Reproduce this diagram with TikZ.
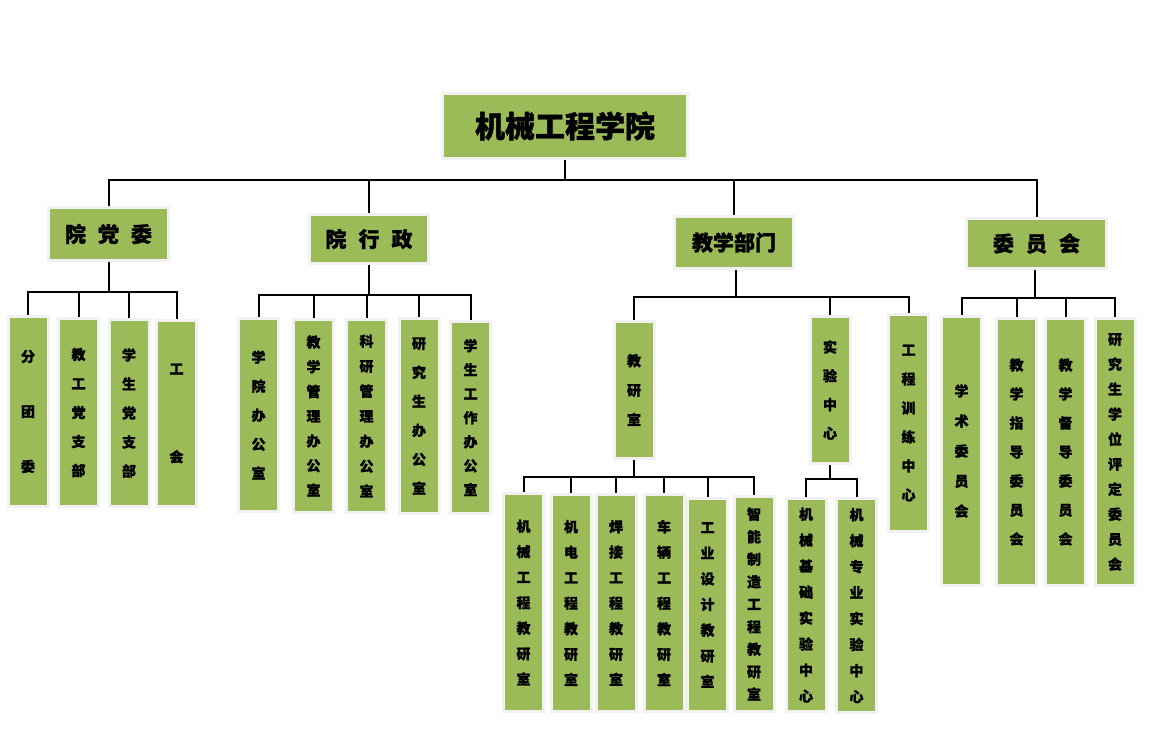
\documentclass[tikz,border=0pt]{standalone}
\usepackage{fontspec}
\newfontfamily\cjk{Noto Sans CJK SC}[BoldFeatures={FakeBold=1.2}]
\usetikzlibrary{shadows}
\definecolor{boxgreen}{HTML}{9BBB59}
\definecolor{boxframe}{HTML}{F1F1F1}
\newcommand\colfont[1]{\cjk\bfseries\fontsize{14pt}{#1pt}\selectfont}
\tikzset{
  unit/.style={fill=boxgreen, draw=boxframe, line width=3pt, inner sep=0pt,
    drop shadow={shadow xshift=1pt, shadow yshift=-1.5pt, fill=black!30}},
  headbox/.style={unit, font=\cjk\bfseries\fontsize{21pt}{24pt}\selectfont},
  colbox/.style={unit, minimum width=40pt, align=center, font=\colfont{#1}},
  link/.style={line width=2pt}
}
\begin{document}
\begin{tikzpicture}[x=1pt, y=-1pt]
\useasboundingbox (0,0) rectangle (1169,745);
% top
\node[unit, minimum width=245pt, minimum height=65pt, font=\cjk\bfseries\fontsize{30pt}{34pt}\selectfont] (top) at (565,126) {机械工程学院};
% second level
\node[headbox, minimum width=120pt, minimum height=53pt] (dang) at (108.5,234) {院\hspace{12pt}党\hspace{12pt}委};
\node[headbox, minimum width=119pt, minimum height=49pt] (xz) at (369,239) {院\hspace{12pt}行\hspace{12pt}政};
\node[headbox, minimum width=119pt, minimum height=52pt] (jx) at (734,242.5) {教学部门};
\node[headbox, minimum width=140pt, minimum height=50pt] (wy) at (1036.5,243.5) {委\hspace{12pt}员\hspace{12pt}会};
% third level
\node[colbox=55, minimum height=190pt] (d1) at (28,411.5) {分\\团\\委};
\node[colbox=29, minimum height=188pt] (d2) at (78.5,412.5) {教\\工\\党\\支\\部};
\node[colbox=29, minimum height=187pt] (d3) at (129,413) {学\\生\\党\\支\\部};
\node[colbox=88, minimum height=186pt] (d4) at (176.5,413.5) {工\\会};
\node[colbox=29, minimum height=193pt] (x1) at (258.5,415) {学\\院\\办\\公\\室};
\node[colbox=24.7, minimum height=193pt] (x2) at (313.5,416) {教\\学\\管\\理\\办\\公\\室};
\node[colbox=25, minimum height=193pt] (x3) at (366.5,416) {科\\研\\管\\理\\办\\公\\室};
\node[colbox=29, minimum height=195pt] (x4) at (419,416) {研\\究\\生\\办\\公\\室};
\node[colbox=24, minimum height=192pt] (x5) at (470.5,417.5) {学\\生\\工\\作\\办\\公\\室};
\node[colbox=29.5, minimum height=137pt] (jys) at (634,390) {教\\研\\室};
\node[colbox=28.7, minimum height=147pt] (syzx) at (830,390) {实\\验\\中\\心};
\node[colbox=29, minimum height=217pt] (gcxl) at (908.5,423) {工\\程\\训\\练\\中\\心};
\node[colbox=30, minimum height=269pt] (w1) at (961.5,451) {学\\术\\委\\员\\会};
\node[colbox=29, minimum height=267pt] (w2) at (1016.5,452) {教\\学\\指\\导\\委\\员\\会};
\node[colbox=29, minimum height=267pt] (w3) at (1065.5,452) {教\\学\\督\\导\\委\\员\\会};
\node[colbox=25, minimum height=267pt] (w4) at (1115,452) {研\\究\\生\\学\\位\\评\\定\\委\\员\\会};
% fourth level
\node[colbox=25.5, minimum height=218pt] (r1) at (523.5,602.5) {机\\械\\工\\程\\教\\研\\室};
\node[colbox=25.5, minimum height=217pt] (r2) at (571,603) {机\\电\\工\\程\\教\\研\\室};
\node[colbox=25.5, minimum height=217pt] (r3) at (616,603) {焊\\接\\工\\程\\教\\研\\室};
\node[colbox=25.5, minimum height=217pt] (r4) at (664,603) {车\\辆\\工\\程\\教\\研\\室};
\node[colbox=25.7, minimum height=213pt] (r5) at (707.5,605) {工\\业\\设\\计\\教\\研\\室};
\node[colbox=22.5, minimum height=215pt] (r6) at (754,604) {智\\能\\制\\造\\工\\程\\教\\研\\室};
\node[colbox=26, minimum height=213pt] (s1) at (806,605) {机\\械\\基\\础\\实\\验\\中\\心};
\node[colbox=26, minimum height=214pt] (s2) at (856.5,605.5) {机\\械\\专\\业\\实\\验\\中\\心};
% buses
\coordinate (b0) at (565,180);
\coordinate (bd) at (108.5,292);
\coordinate (bx) at (369,295);
\coordinate (bj) at (736,297);
\coordinate (bw) at (1035,298);
\coordinate (br) at (634,477);
\coordinate (bs) at (830,479);
% links
\draw[link] (top.south) -- (b0);
\foreach \n in {dang,xz,jx,wy} \draw[link] (b0) -| (\n.north);
\draw[link] (dang.south) -- (bd);
\foreach \n in {d1,d2,d3,d4} \draw[link] (bd) -| (\n.north);
\draw[link] (xz.south) -- (bx);
\foreach \n in {x1,x2,x3,x4,x5} \draw[link] (bx) -| (\n.north);
\draw[link] (jx.south -| bj) -- (bj);
\foreach \n in {jys,syzx,gcxl} \draw[link] (bj) -| (\n.north);
\draw[link] (wy.south -| bw) -- (bw);
\foreach \n in {w1,w2,w3,w4} \draw[link] (bw) -| (\n.north);
\draw[link] (jys.south) -- (br);
\foreach \n in {r1,r2,r3,r4,r5,r6} \draw[link] (br) -| (\n.north);
\draw[link] (syzx.south) -- (bs);
\foreach \n in {s1,s2} \draw[link] (bs) -| (\n.north);
\end{tikzpicture}
\end{document}
